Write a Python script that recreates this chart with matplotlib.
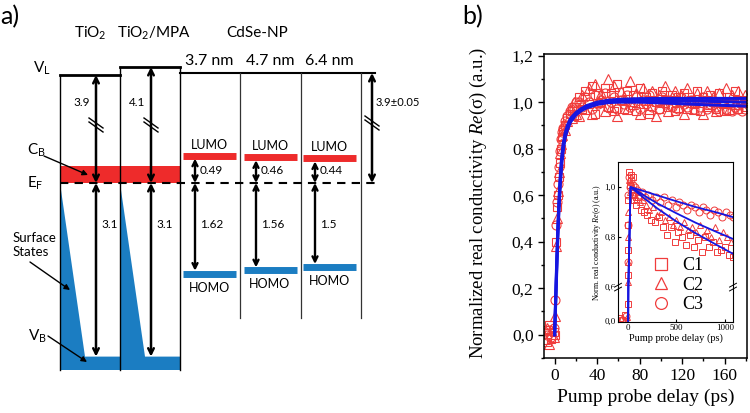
"""
Energy level diagram (a) and transient conductivity traces (b).
"""

import numpy as np
import matplotlib
matplotlib.use('Agg')
import matplotlib.pyplot as plt
from matplotlib.ticker import FuncFormatter, MultipleLocator
from matplotlib.lines import Line2D

plt.rcParams['mathtext.fontset'] = 'custom'
plt.rcParams['mathtext.rm'] = 'Liberation Serif'
plt.rcParams['mathtext.it'] = 'Liberation Serif:italic'

SANS = 'Lato'
SERIF = 'Liberation Serif'
RED = '#ee2b2b'
BLUE = '#1b7dc2'
MRED = '#f03c3c'
LBLUE = '#1616e0'

# ---- panel a data (eV, relative to the Fermi level) ----
oxides = ['TiO$_\\mathregular{2}$', 'TiO$_\\mathregular{2}$/MPA']
work_fn = [3.9, 4.1]
vb_depth = [3.1, 3.1]
cb_height = 0.3
np_sizes = ['3.7 nm', '4.7 nm', '6.4 nm']
lumo_gap = [0.49, 0.46, 0.44]
homo_gap = [1.62, 1.56, 1.5]
np_vacuum = 3.9

# ---- panel b data ----
t_main = [-9, -7, -5, -3, -1, 0, 1, 2, 3, 4, 5, 6, 7, 8, 10, 12, 14, 16, 18, 20,
          23, 26, 29, 32, 35, 38, 41, 44, 47, 50, 53, 56, 59, 62, 65, 68, 71, 74,
          77, 80, 83, 86, 89, 92, 95, 98, 101, 104, 107, 110, 113, 116, 119, 122,
          125, 128, 131, 134, 137, 140, 143, 146, 149, 152, 155, 158, 161, 164,
          167, 170, 173, 176, 179]
c1_main = [0.02, -0.03, 0.04, -0.02, 0.01,
           0.0, 0.4, 0.55, 0.6, 0.68, 0.74, 0.8, 0.85, 0.88,
           0.9, 0.93, 0.95, 0.96, 0.94, 0.98,
           1.02, 0.97, 1.05, 0.99, 1.07, 0.95, 1.03, 1.0, 1.06, 0.98,
           1.04, 0.96, 1.08, 1.01, 0.97, 1.05, 1.0, 1.03, 0.96, 1.06,
           0.99, 1.02, 0.95, 1.04, 1.0, 0.97, 1.05, 1.01, 0.98, 1.03,
           0.96, 1.02, 1.0, 1.04, 0.97, 1.01, 0.99, 1.05, 0.96, 1.02,
           0.98, 1.03, 1.0, 0.97, 1.04, 0.99, 0.96, 1.02, 1.0, 1.05,
           0.97, 1.01, 0.98]
c2_main = [-0.02, 0.03, -0.04, 0.02, -0.01,
           0.08, 0.38, 0.5, 0.62, 0.7, 0.78, 0.82, 0.86, 0.9,
           0.88, 0.92, 0.97, 0.93, 1.0, 0.95,
           0.94, 1.03, 0.97, 1.06, 0.95, 1.08, 1.0, 1.04, 0.96, 1.1,
           0.98, 1.07, 0.94, 1.05, 1.02, 0.97, 1.09, 0.99, 1.04, 0.95,
           1.06, 1.01, 0.97, 1.05, 0.94, 1.03, 1.0, 1.07, 0.96, 1.02,
           1.05, 0.98, 1.03, 0.95, 1.06, 1.0, 0.97, 1.04, 1.01, 0.95,
           1.05, 0.99, 1.02, 0.96, 1.04, 1.0, 1.06, 0.97, 1.03, 0.99,
           1.05, 1.0, 1.03]
c3_main = [0.01, 0.0, 0.02, -0.01, 0.03,
           0.15, 0.47, 0.57, 0.65, 0.72, 0.79, 0.84, 0.87, 0.89,
           0.92, 0.94, 0.96, 0.98, 0.97, 1.0,
           1.0, 0.98, 1.02, 1.0, 0.97, 1.03, 0.99, 1.01, 1.04, 0.98,
           1.0, 1.02, 0.97, 1.01, 0.99, 1.03, 0.98, 1.0, 1.02, 0.97,
           1.01, 0.99, 1.03, 0.98, 1.0, 0.97, 1.02, 0.99, 1.01, 0.98,
           1.0, 0.97, 1.02, 0.99, 0.98, 1.01, 0.97, 1.0, 0.98, 1.02,
           0.97, 0.99, 1.01, 0.98, 0.96, 1.0, 0.97, 0.99, 0.96, 0.98,
           0.97, 0.96, 0.97]

fit_t = [0, 1, 2, 3, 4, 5, 6, 7, 8, 10, 12, 15, 20, 25, 30, 40, 50, 60, 80, 100,
         120, 140, 160, 180]
fit_c3 = [0.0, 0.16, 0.32, 0.46, 0.57, 0.66, 0.73, 0.78, 0.82, 0.87, 0.9, 0.93,
          0.955, 0.972, 0.985, 1.0, 1.008, 1.012, 1.015, 1.016, 1.016, 1.016,
          1.016, 1.016]
fit_c2 = [0.0, 0.15, 0.3, 0.44, 0.55, 0.64, 0.71, 0.765, 0.805, 0.86, 0.89, 0.925,
          0.95, 0.968, 0.98, 0.995, 1.003, 1.007, 1.008, 1.007, 1.005, 1.004,
          1.002, 1.0]
fit_c1 = [0.0, 0.14, 0.28, 0.42, 0.53, 0.62, 0.69, 0.75, 0.79, 0.85, 0.88, 0.915,
          0.945, 0.963, 0.975, 0.99, 0.998, 1.0, 1.0, 0.997, 0.993, 0.989, 0.986,
          0.983]

# inset: long time decay
t_c1_ins = [-80, -60, -30, 0, 0, 0, 0, 0, 10, 20, 30, 40, 50, 60, 80, 100, 130,
            160, 200, 240, 280, 320, 360, 400, 440, 480, 520, 560, 600, 640, 680,
            720, 760, 800, 840, 880, 920, 960, 1000, 1040, 1080]
c1_ins = [0.05, 0.02, 0.1, 0.3, 0.65, 0.75, 0.85, 0.95, 1.06, 1.01, 1.05, 0.97,
          1.04, 0.95, 0.93, 0.96, 0.91, 0.9, 0.89, 0.87, 0.86, 0.88, 0.84, 0.81,
          0.84, 0.78, 0.82, 0.8, 0.77, 0.81, 0.76, 0.79, 0.74, 0.8, 0.76, 0.78,
          0.74, 0.75, 0.76, 0.73, 0.72]
t_c2_ins = [-70, -40, -10, 0, 0, 0, 0, 10, 20, 30, 40, 50, 60, 80, 100, 120, 150,
            180, 220, 260, 300, 340, 380, 420, 460, 500, 540, 580, 620, 660, 700,
            740, 780, 820, 860, 900, 940, 980, 1020, 1060]
c2_ins = [0.03, 0.0, 0.06, 0.62, 0.7, 0.8, 0.9, 1.03, 0.98, 1.02, 0.95, 1.0, 0.97,
          0.96, 0.98, 0.94, 0.95, 0.93, 0.91, 0.92, 0.89, 0.9, 0.87, 0.88, 0.85,
          0.87, 0.84, 0.86, 0.83, 0.84, 0.82, 0.85, 0.81, 0.83, 0.8, 0.84, 0.79,
          0.82, 0.8, 0.78]
t_c3_ins = [-50, -20, 0, 0, 0, 10, 20, 30, 40, 50, 60, 70, 90, 110, 140, 170, 210,
            250, 290, 330, 370, 410, 450, 490, 530, 570, 610, 650, 690, 730, 770,
            810, 850, 890, 930, 970, 1010, 1050, 1080]
c3_ins = [0.02, 0.08, 0.7, 0.85, 0.97, 1.04, 1.0, 1.03, 0.99, 1.01, 0.98, 1.0,
          0.99, 0.97, 0.98, 0.96, 0.97, 0.95, 0.96, 0.94, 0.96, 0.93, 0.95, 0.92,
          0.94, 0.93, 0.91, 0.93, 0.92, 0.9, 0.92, 0.91, 0.89, 0.91, 0.9, 0.88,
          0.9, 0.89, 0.88]
fit_ins_t = [0, 2, 25, 150, 300, 500, 700, 900, 1100]
fit_ins_c3 = [0.0, 0.6, 1.0, 0.985, 0.967, 0.943, 0.92, 0.9, 0.878]
fit_ins_c2 = [0.0, 0.6, 1.0, 0.97, 0.935, 0.895, 0.857, 0.823, 0.79]
fit_ins_c1 = [0.0, 0.6, 1.0, 0.96, 0.915, 0.862, 0.815, 0.772, 0.73]

fig = plt.figure(figsize=(7.5, 4.13), dpi=100)

# ================= panel a (drawn in pixel space) =================
ax = fig.add_axes([0, 0, 1, 1])
ax.set_xlim(0, 750)
ax.set_ylim(413, 0)
ax.axis('off')

EF_Y = 183
EV = 56  # pixels per eV below the break


def lvl(e):
    return EF_Y - e * EV


def vac(phi):
    return 75 - (phi - 3.9) * 40


def darrow(x, y1, y2, lw=1.8, ms=10):
    ax.annotate('', xy=(x, y1), xytext=(x, y2),
                arrowprops=dict(arrowstyle='<->', lw=lw, color='k',
                                shrinkA=0, shrinkB=0, mutation_scale=ms))


def brk(x, y):
    ax.plot([x - 8, x + 8], [y - 6, y + 6], color='white', lw=5, solid_capstyle='butt')
    for d in (-2, 2):
        ax.plot([x - 7, x + 7], [y - 5 + d, y + 5 + d], color='k', lw=1)


box_x = [60, 120, 180]
bottom = 370
for i, (phi, vb) in enumerate(zip(work_fn, vb_depth)):
    x0, x1 = box_x[i], box_x[i + 1]
    y_vl, y_vb = vac(phi), lvl(-vb)
    ax.fill_between([x0, x1], lvl(0), lvl(cb_height), color=RED, lw=0)
    ax.fill([x0, x0 + 25, x1, x1, x0], [EF_Y, y_vb, y_vb, bottom, bottom],
            color=BLUE, lw=0)
    ax.plot([x0, x1], [y_vl, y_vl], color='k', lw=2)
    ax.plot([x0, x0], [min(y_vl, vac(work_fn[i - 1]) if i else y_vl), bottom],
            color='k', lw=1)
    xa = x0 + 36 if i == 0 else x0 + 31
    darrow(xa, y_vl, EF_Y)
    darrow(xa, EF_Y, y_vb)
    brk(xa, 125)
    ax.text(xa - 6, 103, f'{phi:.1f}', ha='right', va='center', fontsize=8.5,
            family=SANS)
    ax.text(xa + 5, 225, f'{vb:.1f}', ha='left', va='center', fontsize=8.5,
            family=SANS)
    ax.text((x0 + x1) / 2 + (4 if i else 0), 33, oxides[i], ha='center',
            va='center', fontsize=11, family=SANS)
ax.plot([180, 180], [vac(work_fn[1]), bottom], color='k', lw=1)
ax.text(257, 33, 'CdSe-NP', ha='center', va='center', fontsize=11, family=SANS)

# nanoparticle columns
y_np = vac(np_vacuum) - 2
ax.plot([180, 375], [y_np, y_np], color='k', lw=1.5)
for xl in (240, 301, 361):
    ax.plot([xl, xl], [y_np, 318], color='#333333', lw=0.9)
ax.plot([60, 375], [EF_Y, EF_Y], color='k', lw=1.5, ls=(0, (4, 3)), zorder=3)

bar_x = [183, 244, 303]
for xb, size, lg, hg in zip(bar_x, np_sizes, lumo_gap, homo_gap):
    yl, yh = lvl(lg), lvl(-hg)
    ax.plot([xb, xb + 53], [yl, yl], color=RED, lw=5, solid_capstyle='butt')
    ax.plot([xb, xb + 53], [yh, yh], color=BLUE, lw=5, solid_capstyle='butt')
    ax.text(xb + 26, yl - 11, 'LUMO', ha='center', va='center', fontsize=9,
            family=SANS)
    ax.text(xb + 26, yh + 14, 'HOMO', ha='center', va='center', fontsize=9,
            family=SANS)
    ax.text(xb + 26, 61, size, ha='center', va='center', fontsize=11.5,
            family=SANS)
    xa = xb + 12
    darrow(xa, yl + 3, EF_Y, lw=1.7, ms=9)
    darrow(xa, EF_Y, yh - 3, lw=1.7, ms=9)
    ax.text(xa + 5, 170, f'{lg:.2f}', ha='left', va='center', fontsize=8.5,
            family=SANS)
    ax.text(xa + 5, 225, f'{hg:g}', ha='left', va='center', fontsize=8.5,
            family=SANS)

darrow(372, y_np, EF_Y)
brk(372, 123)
ax.text(376, 103, f'{np_vacuum:.1f}\u00b10.05', ha='left', va='center',
        fontsize=8, family=SANS)

# side labels
ax.text(33, 68, 'V$_\\mathregular{L}$', ha='left', va='center', fontsize=11,
        family=SANS)
ax.text(27, 150, 'C$_\\mathregular{B}$', ha='left', va='center', fontsize=11,
        family=SANS)
ax.text(27, 183, 'E$_\\mathregular{F}$', ha='left', va='center', fontsize=11,
        family=SANS)
ax.text(28, 336, 'V$_\\mathregular{B}$', ha='left', va='center', fontsize=11,
        family=SANS)
ax.text(13, 245, 'Surface\nStates', ha='left', va='center', fontsize=9.5,
        family=SANS, linespacing=1.1)
for (xs, ys), (xe, ye) in [((44, 156), (88, 175)), ((30, 262), (70, 290)),
                           ((48, 336), (87, 362))]:
    ax.annotate('', xy=(xe, ye), xytext=(xs, ys),
                arrowprops=dict(arrowstyle='-|>', lw=1, color='k',
                                mutation_scale=8, shrinkA=0, shrinkB=0))
ax.text(0, 17, 'a)', ha='left', va='center', fontsize=18, family=SANS)
ax.text(462, 17, 'b)', ha='left', va='center', fontsize=18, family=SANS)

# ================= panel b =================
comma = FuncFormatter(lambda v, p: f'{v:.1f}'.replace('.', ','))
mk = dict(ls='none', mfc='none', mec=MRED, mew=0.8)

axb = fig.add_axes([544 / 750, 55 / 413, 203 / 750, 304 / 413])
axb.plot(t_main, c1_main, marker='s', ms=6, **mk)
axb.plot(t_main, c2_main, marker='^', ms=6.5, **mk)
axb.plot(t_main, c3_main, marker='o', ms=6.5, **mk)
for f in (fit_c1, fit_c2, fit_c3):
    axb.plot(fit_t, f, color=LBLUE, lw=2.2)
axb.set_xlim(-10, 181)
axb.set_ylim(-0.1, 1.207)
axb.xaxis.set_major_locator(MultipleLocator(40))
axb.xaxis.set_minor_locator(MultipleLocator(20))
axb.yaxis.set_major_locator(MultipleLocator(0.2))
axb.yaxis.set_minor_locator(MultipleLocator(0.1))
axb.yaxis.set_major_formatter(comma)
axb.tick_params(which='both', direction='out', width=1, labelsize=12.5)
axb.tick_params(which='major', length=4)
axb.tick_params(which='minor', length=2.5)
for lab in axb.get_xticklabels() + axb.get_yticklabels():
    lab.set_family(SERIF)
for s in axb.spines.values():
    s.set_linewidth(1.1)
axb.set_xlabel('Pump probe delay (ps)', family=SERIF, fontsize=14, labelpad=3)
axb.set_ylabel('Normalized real conductivity $\\mathit{Re}$(\u03c3) (a.u.)',
               family=SERIF, fontsize=13.5)
axb.yaxis.set_label_coords(-0.27, 0.51)

# inset with broken y axis
K = 0.225


def fwd(y):
    y = np.asarray(y, float)
    return np.where(y < 0.6, y * K, 0.6 * K + (y - 0.6))


def inv(y):
    y = np.asarray(y, float)
    return np.where(y < 0.6 * K, y / K, y - 0.6 * K + 0.6)


axi = fig.add_axes([618 / 750, 91 / 413, 115 / 750, 160 / 413])
axi.set_yscale('function', functions=(fwd, inv))
mki = dict(ls='none', mfc='none', mec=MRED, mew=0.7)
axi.plot(t_c1_ins, c1_ins, marker='s', ms=4.5, **mki)
axi.plot(t_c2_ins, c2_ins, marker='^', ms=5, **mki)
axi.plot(t_c3_ins, c3_ins, marker='o', ms=5, **mki)
for f in (fit_ins_c1, fit_ins_c2, fit_ins_c3):
    axi.plot(fit_ins_t, f, color=LBLUE, lw=1.3)
axi.set_xlim(-105, 1085)
axi.set_ylim(-0.02, 1.1)
axi.set_xticks([0, 500, 1000])
axi.set_yticks([0.0, 0.6, 0.8, 1.0])
axi.yaxis.set_major_formatter(comma)
axi.yaxis.set_minor_locator(plt.NullLocator())
axi.tick_params(direction='in', length=2.5, width=0.8, labelsize=6.5, pad=1.5)
for lab in axi.get_xticklabels() + axi.get_yticklabels():
    lab.set_family(SERIF)
for s in axi.spines.values():
    s.set_linewidth(0.8)
axi.set_xlabel('Pump probe delay (ps)', family=SERIF, fontsize=7.5, labelpad=1)
axi.set_ylabel('Norm. real conductivity $\\mathit{Re}$(\u03c3) (a.u.)',
               family=SERIF, fontsize=5.8, labelpad=1)
yb = axi.transAxes.inverted().transform(axi.transData.transform((0, 0.6)))[1]
for xb in (0, 1):
    axi.plot([xb - 0.03, xb + 0.03], [yb - 0.012, yb + 0.012], color='white',
             lw=3, transform=axi.transAxes, clip_on=False)
    for d in (-0.012, 0.012):
        axi.plot([xb - 0.03, xb + 0.03], [yb - 0.012 + d, yb + 0.012 + d],
                 color='k', lw=0.7, transform=axi.transAxes, clip_on=False)

handles = [Line2D([], [], marker=m, ms=8.5, mfc='none', mec=MRED, mew=0.9, ls='none')
           for m in ('s', '^', 'o')]
leg = axi.legend(handles, ['C1', 'C2', 'C3'], loc='center',
                 bbox_to_anchor=(0.52, 0.23), frameon=False, handlelength=1.0,
                 handletextpad=0.7, labelspacing=0.15,
                 prop={'family': SERIF, 'size': 13})

fig.savefig('out.png', dpi=100)
